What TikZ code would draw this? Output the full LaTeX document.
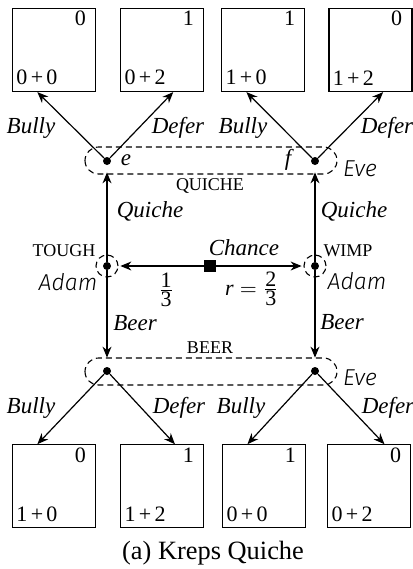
\documentclass[tikz,border=0pt]{standalone}
\usepackage{fontspec}
\setmainfont{Liberation Serif}[ItalicFont={Liberation Serif Italic}]
\newfontfamily\handfont{Fira Sans Light Italic}
\usetikzlibrary{arrows.meta,calc}
\newcommand\payoffs[3]{%
  \node[anchor=north east,inner xsep=5pt,inner ysep=1.5pt] (#1t) at (#1.north east) {#2};
  \node[anchor=south west,inner xsep=2pt,inner ysep=3.3pt] (#1b) at (#1.south west) {#3};}
\newcommand\pl[2]{#1\kern.15em+\kern.15em#2}
\begin{document}
\begin{tikzpicture}[x=0.5pt,y=-0.5pt,
  every node/.style={font=\fontsize{11}{13}\selectfont},
  dec/.style={circle,fill,inner sep=0pt,minimum size=4pt},
  chancebox/.style={rectangle,fill,inner sep=0pt,minimum size=5.8pt},
  payoff/.style={draw,rectangle,minimum size=41.5pt,inner sep=0pt,line width=0.6pt},
  arr/.style={-{Stealth[length=5.5pt,width=4.5pt]},line width=0.6pt},
  infoset/.style={dash pattern=on 3pt off 2pt,line width=0.55pt},
  act/.style={font=\fontsize{11.5}{13}\selectfont\itshape},
  typelbl/.style={font=\fontsize{9}{11}\selectfont},
  player/.style={font=\fontsize{11.5}{13}\selectfont\handfont},
  caption/.style={font=\fontsize{13.2}{15}\selectfont},
  frac/.style={inner sep=0pt},
]
\useasboundingbox (0,0) rectangle (413,569);

% payoff boxes
\node[payoff] (t1) at (54.2,50) {};
\node[payoff] (t2) at (162.3,50) {};
\node[payoff] (t3) at (263.3,50) {};
\node[payoff] (t4) at (370.5,50) {};
\node[payoff] (b1) at (54.2,486.3) {};
\node[payoff] (b2) at (162.3,486.3) {};
\node[payoff] (b3) at (264.3,486.3) {};
\node[payoff] (b4) at (369.3,486.3) {};
\payoffs{t1}{0}{\pl00}
\payoffs{t2}{1}{\pl02}
\payoffs{t3}{1}{\pl10}
\payoffs{t4}{0}{\pl12}
\payoffs{b1}{0}{\pl10}
\payoffs{b2}{1}{\pl12}
\payoffs{b3}{1}{\pl00}
\payoffs{b4}{0}{\pl02}

% decision nodes
\node[dec] (e) at (107,161) {};
\node[dec] (f) at (315,161) {};
\node[dec] (tough) at (107,266) {};
\node[dec] (wimp) at (315,266) {};
\node[dec] (bl) at (107,371) {};
\node[dec] (br) at (315,371) {};
\node[chancebox] (chance) at (210,266) {};

% information sets
\draw[infoset,rounded corners=6.75pt] ($(e)+(-22,-14)$) rectangle ($(f)+(22,13)$);
\draw[infoset,rounded corners=6.75pt] ($(bl)+(-22,-13)$) rectangle ($(br)+(22,14)$);
\draw[infoset] (tough) circle[radius=5.5pt];
\draw[infoset] (wimp) circle[radius=5.5pt];

% connectors
\draw[arr,shorten >=4.5pt] (chance) -- (tough);
\draw[arr,shorten >=4.5pt] (chance) -- (wimp);
\draw[arr,shorten >=3.5pt] (tough) -- (e);
\draw[arr,shorten >=3.5pt] (wimp) -- (f);
\draw[arr,shorten >=4.5pt] (tough) -- (bl);
\draw[arr,shorten >=4.5pt] (wimp) -- (br);
\draw[arr] (e) -- ($(t1.south west)!0.3!(t1.south east)$);
\draw[arr] (e) -- ($(t2.south west)!0.63!(t2.south east)$);
\draw[arr] (f) -- ($(t3.south west)!0.3!(t3.south east)$);
\draw[arr] (f) -- ($(t4.south west)!0.65!(t4.south east)$);
\draw[arr] (bl) -- ($(b1.north west)!0.3!(b1.north east)$);
\draw[arr] (bl) -- ($(b2.north west)!0.65!(b2.north east)$);
\draw[arr] (br) -- ($(b3.north west)!0.3!(b3.north east)$);
\draw[arr] (br) -- ($(b4.north west)!0.68!(b4.north east)$);

% action labels
\node[act] (l1) at (31,128) {Bully};
\node[act] (l2) at (178,128) {Defer};
\node[act] (l3) at (243,128) {Bully};
\node[act] (l4) at (387,128) {Defer};
\node[act] (l5) at (31,408) {Bully};
\node[act] (l6) at (179,408) {Defer};
\node[act] (l7) at (241,408) {Bully};
\node[act] (l8) at (388,408) {Defer};
\node[act] (q1) at (150,211) {Quiche};
\node[act] (q2) at (354,211) {Quiche};
\node[act] (r1) at (135,323) {Beer};
\node[act] (r2) at (342,322) {Beer};
\node[act] (ch) at (244,248) {Chance};
\node[frac] (p1) at (166,290) {$\frac{\hbox{1}}{\hbox{3}}$};
\node[frac] (p2) at (252,289) {$\hbox{\itshape r}=\frac{\hbox{2}}{\hbox{3}}$};
\node[act] (le) at (126,160) {e};
\node[act] (lf) at (288,160) {f};

% type, set and player labels
\node[typelbl] (quiche) at (210,186) {QUICHE};
\node[typelbl] (beer) at (210,348) {BEER};
\node[typelbl] (tl) at (64,251) {TOUGH};
\node[typelbl] (wl) at (348,251) {WIMP};
\node[player] (a1) at (68,282) {Adam};
\node[player] (a2) at (357,281) {Adam};
\node[player] (ev1) at (360,169) {Eve};
\node[player] (ev2) at (360,378) {Eve};

\node[caption] (cap) at (213,553) {(a) Kreps Quiche};
\end{tikzpicture}
\end{document}
